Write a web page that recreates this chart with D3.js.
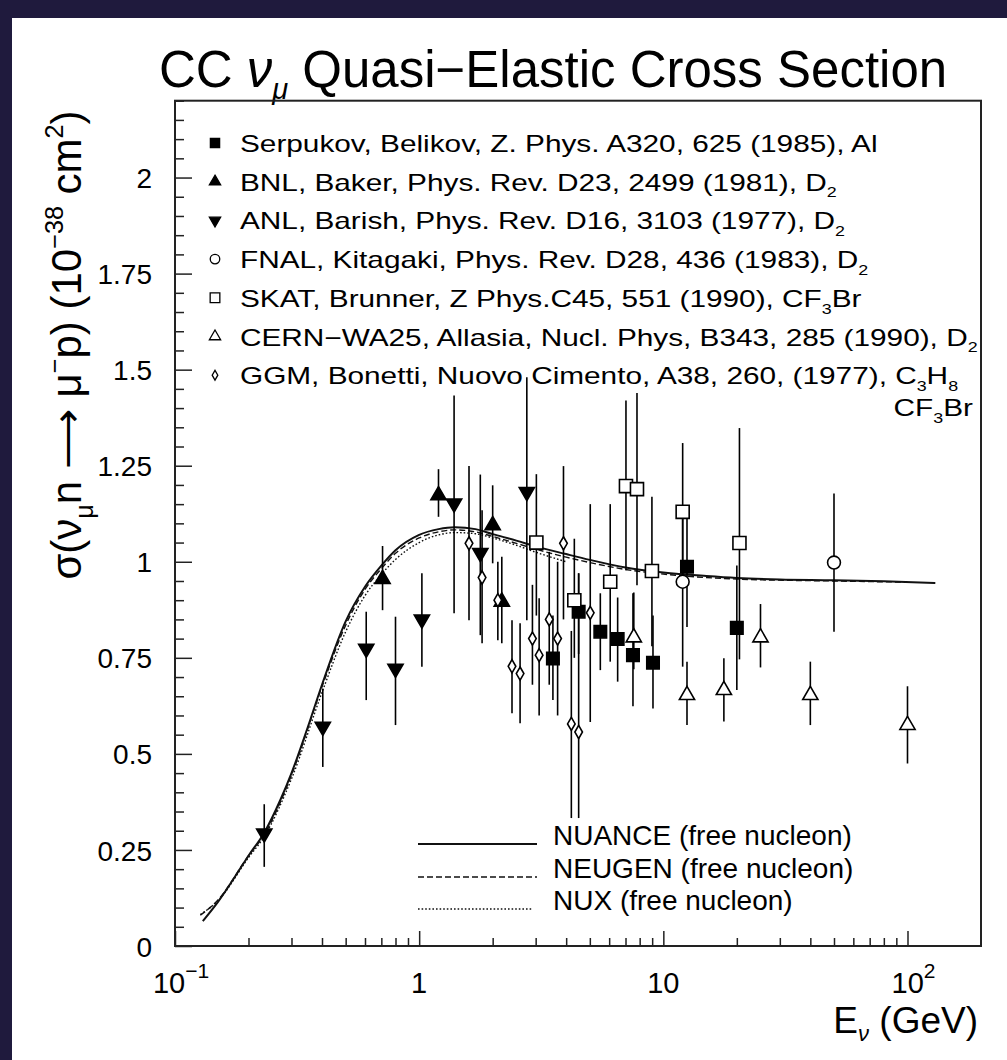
<!DOCTYPE html>
<html><head><meta charset="utf-8">
<script src="https://cdn.jsdelivr.net/npm/d3@7"></script>
<style>body{margin:0;background:#1f1a3d;overflow:hidden} text{font-family:"Liberation Sans",Arial,sans-serif;fill:#000}</style>
</head><body><svg id="c" width="1007" height="1060"></svg>
<script>
// ---------- data: [E (GeV), sigma, errLow, errHigh] ----------
const serpukov = [[3.53,0.748,0.64,0.86],[4.5,0.87,0.76,0.97],[5.52,0.818,0.718,0.918],[6.5,0.799,0.688,0.907],[7.51,0.757,0.624,0.918],[9.07,0.737,0.618,0.86],[12.5,0.987,0.83,1.13],[20.0,0.828,0.666,0.99]];
const bnl = [[0.708,0.955,0.874,1.041],[1.2,1.173,1.117,1.241],[2.0,1.095,0.996,1.199],[2.18,0.896,0.788,1.013]];
const anl = [[0.232,0.293,0.206,0.369],[0.403,0.571,0.466,0.67],[0.607,0.774,0.64,0.87],[0.80,0.722,0.575,0.857],[1.026,0.85,0.727,0.97],[1.39,1.152,0.866,1.433],[1.78,1.023,0.809,1.227],[2.76,1.182,0.848,1.48]];
const fnal = [[12.0,0.948,0.727,1.13],[50,0.998,0.818,1.178]];
const skat = [[3.02,1.05,0.86,1.228],[4.32,0.90,0.75,1.06],[6.06,0.948,0.74,1.15],[7.03,1.197,0.978,1.42],[7.8,1.189,0.939,1.439],[8.98,0.976,0.78,1.169],[12.0,1.13,0.95,1.309],[20.5,1.049,0.746,1.348]];
const cern = [[7.57,0.803,0.72,0.92],[12.5,0.653,0.575,0.74],[17.7,0.666,0.584,0.749],[25,0.803,0.725,0.89],[40,0.653,0.575,0.74],[100,0.575,0.475,0.676]];
const ggm = [[1.60,1.048,0.848,1.249],[1.81,0.959,0.788,1.134],[2.10,0.90,0.796,1.0],[2.4,0.728,0.606,0.848],[2.59,0.709,0.58,0.84],[2.91,0.80,0.68,0.94],[3.1,0.757,0.6,0.905],[3.41,0.85,0.68,1.026],[3.69,0.80,0.6,1.0],[3.9,1.048,0.85,1.249],[4.2,0.578,0.333,0.82],[4.5,0.557,0.333,0.97],[5.02,0.867,0.583,1.15]];

// ---------- model curves ----------
const nuanceE = [0.13,0.15,0.18,0.2,0.232,0.27,0.3,0.35,0.4,0.5,0.6,0.7,0.8,1.0,1.2,1.4,1.7,2.0,2.5,3,4,5,7,10,15,20,30,50,80,130];
const nuanceV = [0.065,0.115,0.19,0.235,0.295,0.38,0.45,0.57,0.68,0.845,0.935,0.99,1.03,1.07,1.085,1.09,1.085,1.072,1.055,1.04,1.02,1.005,0.985,0.972,0.963,0.958,0.954,0.952,0.949,0.945];
const neugenE = [0.127,0.15,0.2,0.232,0.3,0.4,0.5,0.6,0.7,0.8,1.0,1.2,1.4,1.7,2.0,2.5,3,4,5,7,10,20,50,100];
const neugenV = [0.08,0.12,0.235,0.29,0.445,0.675,0.835,0.928,0.982,1.022,1.062,1.078,1.083,1.078,1.066,1.048,1.033,1.012,0.998,0.98,0.968,0.955,0.95,0.947];
const nuxE = [0.127,0.15,0.2,0.232,0.3,0.4,0.5,0.6,0.7,0.8,1.0,1.2,1.4,1.7,2.0,2.5,3,4];
const nuxV = [0.082,0.118,0.23,0.285,0.435,0.66,0.818,0.912,0.967,1.006,1.05,1.07,1.076,1.073,1.062,1.043,1.025,1.0];

// ---------- ticks / labels ----------
const yMajor = [0,0.25,0.5,0.75,1,1.25,1.5,1.75,2];
const yTickLabels = ["0","0.25","0.5","0.75","1","1.25","1.5","1.75","2"];
const xMajor = [0.1,1,10,100];
const xTickBase = ["10","1","10","10"];
const xTickSup = ["\u22121","","","2"];

const legendNames = [
 "Serpukov, Belikov, Z. Phys. A320, 625 (1985), Al",
 "BNL, Baker, Phys. Rev. D23, 2499 (1981), D_{2}",
 "ANL, Barish, Phys. Rev. D16, 3103 (1977), D_{2}",
 "FNAL, Kitagaki, Phys. Rev. D28, 436 (1983), D_{2}",
 "SKAT, Brunner, Z Phys.C45, 551 (1990), CF_{3}Br",
 "CERN\u2212WA25, Allasia, Nucl. Phys, B343, 285 (1990), D_{2}",
 "GGM, Bonetti, Nuovo Cimento, A38, 260, (1977), C_{3}H_{8}"
];
const modelNames = ["NUANCE (free nucleon)","NEUGEN (free nucleon)","NUX (free nucleon)"];

// ---------- setup ----------
const svg = d3.select("#c");
svg.append("rect").attr("width",1007).attr("height",1060).attr("fill","#1f1a3d");
svg.append("rect").attr("x",12).attr("y",18).attr("width",995).attr("height",1042).attr("fill","#fff");

const L=175, R=981, T=100.7, B=946;
const x = d3.scaleLog().domain([0.1,200]).range([L,R]);
const y = d3.scaleLinear().domain([0,2.2]).range([B,T]);
const DV = "DejaVu Sans, Verdana, sans-serif";

function rich(sel, str, size){
  const re=/([_^])\{([^}]*)\}/g; let last=0, m;
  const parts=[];
  while((m=re.exec(str))){ if(m.index>last) parts.push({t:str.slice(last,m.index)}); parts.push({t:m[2],k:m[1]}); last=re.lastIndex;}
  if(last<str.length) parts.push({t:str.slice(last)});
  let cur=0;
  parts.forEach(p=>{
    const ts=sel.append("tspan").text(p.t);
    let target=0;
    if(p.k==="_"){target=size*0.28; ts.attr("font-size",size*0.6);}
    if(p.k==="^"){target=-size*0.42; ts.attr("font-size",size*0.6);}
    ts.attr("dy",target-cur); cur=target;
  });
}

// title
{
  const t=svg.append("text").attr("x",553).attr("y",87).attr("text-anchor","middle").attr("font-size",51);
  t.append("tspan").text("CC ");
  t.append("tspan").attr("font-style","italic").text("\u03BD");
  t.append("tspan").attr("font-style","italic").attr("font-size",29).attr("dy",12).text("\u03BC");
  t.append("tspan").attr("dy",-12).text(" Quasi\u2212Elastic Cross Section");
}

// axes
const g = svg.append("g");
const yMinor = d3.range(0,2.2001,0.05).filter(v=>Math.abs(v/0.25-Math.round(v/0.25))>1e-6);
g.append("g").attr("transform",`translate(${L},0)`)
  .call(d3.axisLeft(y).tickValues(yMinor).tickSize(-9).tickFormat(""))
  .call(a=>a.select(".domain").remove())
  .selectAll("line").attr("stroke","#222").attr("stroke-width",1.5);
g.append("g").attr("transform",`translate(${L},0)`)
  .call(d3.axisLeft(y).tickValues(yMajor).tickSize(-17).tickPadding(23).tickFormat((d,i)=>yTickLabels[i]))
  .call(a=>a.select(".domain").remove())
  .call(a=>a.selectAll("line").attr("stroke","#222").attr("stroke-width",1.5))
  .call(a=>a.selectAll("text").attr("font-size",28).attr("font-family",DV).attr("fill","#000").attr("dy","0.36em"));

const xMinor=[];
[0.1,1,10,100].forEach(d=>{for(let k=2;k<=9;k++){const v=d*k; if(v<200) xMinor.push(v);} });
g.append("g").attr("transform",`translate(0,${B})`)
  .call(d3.axisBottom(x).tickValues(xMinor).tickSize(-8).tickFormat(""))
  .call(a=>a.select(".domain").remove())
  .selectAll("line").attr("stroke","#222").attr("stroke-width",1.5);
g.append("g").attr("transform",`translate(0,${B})`)
  .call(d3.axisBottom(x).tickValues(xMajor).tickSize(-15).tickFormat(""))
  .call(a=>a.select(".domain").remove())
  .selectAll("line").attr("stroke","#222").attr("stroke-width",1.5);
xMajor.forEach((v,i)=>{
  const t=svg.append("text").attr("x",x(v)+(xTickSup[i]?6:0)).attr("y",993).attr("text-anchor","middle")
    .attr("font-size",29).attr("font-family",DV);
  t.append("tspan").text(xTickBase[i]);
  if(xTickSup[i]) t.append("tspan").attr("font-size",21).attr("dy",-15).text(xTickSup[i]);
});

svg.append("rect").attr("x",L).attr("y",T).attr("width",R-L).attr("height",B-T)
  .attr("fill","none").attr("stroke","#222").attr("stroke-width",2);

// x title
{
  const t=svg.append("text").attr("x",978).attr("y",1033).attr("text-anchor","end").attr("font-size",37);
  t.append("tspan").text("E");
  t.append("tspan").attr("font-style","italic").attr("font-size",22).attr("dy",8).text("\u03BD");
  t.append("tspan").attr("dy",-8).text(" (GeV)");
}
// y title
{
  const t=svg.append("text").attr("transform","translate(81,345) rotate(-90)").attr("text-anchor","middle").attr("font-size",42);
  rich(t,"\u03C3(\u03BD_{\u03BC}n \u27F6 \u03BC^{\u2212}p)   (10^{\u221238} cm^{2})",42);
}

// ---------- curves ----------
const line = d3.line().x(d=>x(d[0])).y(d=>y(d[1])).curve(d3.curveMonotoneX);
const curves = [
  {E:nuanceE,V:nuanceV,dash:null,w:2},
  {E:neugenE,V:neugenV,dash:"6,3",w:1.4},
  {E:nuxE,V:nuxV,dash:"1.6,2",w:1.4}
];
curves.slice().reverse().forEach(c=>{
  svg.append("path").attr("d",line(c.E.map((e,i)=>[e,c.V[i]])))
    .attr("fill","none").attr("stroke","#111").attr("stroke-width",c.w).attr("stroke-dasharray",c.dash);
});

// ---------- data points ----------
const series = [
  {d:serpukov,type:d3.symbolSquare,size:155,fill:"#000",rot:0},
  {d:bnl,type:d3.symbolTriangle,size:100,fill:"#000",rot:0},
  {d:anl,type:d3.symbolTriangle,size:100,fill:"#000",rot:180},
  {d:fnal,type:d3.symbolCircle,size:130,fill:"#fff",rot:0},
  {d:skat,type:d3.symbolSquare,size:170,fill:"#fff",rot:0},
  {d:cern,type:d3.symbolTriangle,size:100,fill:"#fff",rot:0},
  {d:ggm,type:d3.symbolDiamond,size:50,fill:"#fff",rot:0}
];
const eg=svg.append("g");
series.forEach(s=>{
  eg.selectAll(null).data(s.d).enter().append("line")
    .attr("x1",d=>x(d[0])).attr("x2",d=>x(d[0]))
    .attr("y1",d=>y(d[2])).attr("y2",d=>y(d[3]))
    .attr("stroke","#000").attr("stroke-width",1.6);
});
const mg=svg.append("g");
series.forEach(s=>{
  mg.selectAll(null).data(s.d).enter().append("path")
    .attr("d",d3.symbol().type(s.type).size(s.size))
    .attr("transform",d=>`translate(${x(d[0])},${y(d[1])}) rotate(${s.rot})`)
    .attr("fill",s.fill).attr("stroke","#000").attr("stroke-width",1.6);
});

// ---------- legend (experiments) ----------
const legY0=143, legDY=38.7, legFS=24;
const legTexts=[];
series.forEach((s,i)=>{
  const cy=legY0+i*legDY;
  svg.append("path").attr("d",d3.symbol().type(s.type).size(s.size*0.55))
    .attr("transform",`translate(215,${cy}) rotate(${s.rot})`)
    .attr("fill",s.fill).attr("stroke","#000").attr("stroke-width",1.3);
  const t=svg.append("text").attr("x",0).attr("y",0).attr("font-size",legFS).attr("font-family",DV)
    .attr("data-y",cy+9);
  rich(t,legendNames[i],legFS);
  legTexts.push(t);
});
const cf=svg.append("text").attr("x",0).attr("y",0).attr("text-anchor","end").attr("font-size",legFS).attr("font-family",DV);
rich(cf,"CF_{3}Br",legFS);
const natW = legTexts[5].node().getComputedTextLength();
const k = 738/natW;
legTexts.forEach(t=>t.attr("transform",`translate(240,${t.attr("data-y")}) scale(${k},1)`));
cf.attr("transform",`translate(973,416) scale(${k},1)`);

// ---------- legend (models) ----------
const mY=[844,877,909];
curves.forEach((c,i)=>{
  svg.append("line").attr("x1",418).attr("x2",i===2?533:537).attr("y1",mY[i]).attr("y2",mY[i])
    .attr("stroke","#111").attr("stroke-width",c.w).attr("stroke-dasharray",c.dash);
  svg.append("text").attr("x",553).attr("y",mY[i]+1).attr("font-size",28).text(modelNames[i]);
});
</script></body></html>
